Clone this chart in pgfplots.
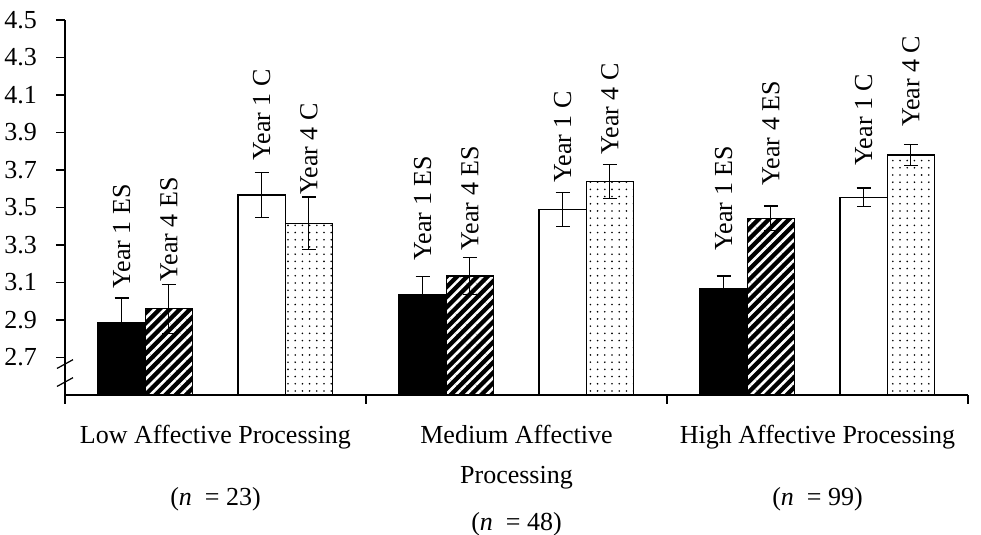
\documentclass[border=0pt]{standalone}
\usepackage{pgfplots}
\pgfplotsset{compat=1.18}
\usepackage{fontspec}
\setmainfont{Liberation Serif}
\usetikzlibrary{patterns.meta}
\newcommand{\tfont}{\fontsize{13}{15}\selectfont}
\newcommand{\bfont}{\fontsize{13}{15}\selectfont}
\begin{document}
\begin{tikzpicture}
\begin{axis}[
  scale only axis, width=451.5pt, height=187.5pt,
  xmin=-0.5, xmax=2.5, ymin=2.5, ymax=4.5,
  axis x line*=bottom, axis y line*=left,
  axis line style={line width=0.6pt, black},
  xtick={-0.5,0.5,1.5,2.5}, xticklabels={},
  ytick={2.7,2.9,3.1,3.3,3.5,3.7,3.9,4.1,4.3,4.5},
  tick align=outside, major tick length=4.5pt,
  tick style={black, line width=0.6pt},
  yticklabel style={font=\tfont, xshift=-6pt, /pgf/number format/.cd, fixed, fixed zerofill, precision=1, assume math mode=true},
  every axis plot/.append style={ybar, bar width=0.157, bar shift=0pt, draw=black, line width=0.6pt,
    error bars/y dir=both, error bars/y explicit,
    error bars/error mark=|,
    error bars/error bar style={draw=black, fill=none, line width=0.6pt, solid},
    error bars/error mark options={draw=black, fill=none, mark size=3.5pt, line width=0.6pt}},
]
% Year 1 ES
\addplot[fill=black]
  coordinates {(-0.312,2.884) +- (0,0.133) (0.688,3.033) +- (0,0.10) (1.688,3.069) +- (0,0.066)};
% Year 4 ES
\addplot[fill=black,
  postaction={pattern={Lines[angle=45,distance=3.6pt,line width=1.3pt]}, pattern color=white}]
  coordinates {(-0.155,2.96) +- (0,0.13) (0.845,3.135) +- (0,0.10) (1.845,3.442) +- (0,0.066)};
% Year 1 C
\addplot[fill=white]
  coordinates {(0.153,3.567) +- (0,0.12) (1.153,3.49) +- (0,0.09) (2.153,3.554) +- (0,0.05)};
% Year 4 C
\addplot[fill=white,
  postaction={pattern={Dots[distance=3.6pt,radius=0.45pt]}, pattern color=black}]
  coordinates {(0.31,3.416) +- (0,0.14) (1.31,3.64) +- (0,0.09) (2.31,3.78) +- (0,0.055)};
% bar labels
\begin{scope}[every node/.style={rotate=90, anchor=west, inner sep=0.5pt, font=\bfont}]
\node at (axis cs:-0.312,3.06) {Year 1 ES};
\node at (axis cs:-0.155,3.097) {Year 4 ES};
\node at (axis cs:0.153,3.743) {Year 1 C};
\node at (axis cs:0.31,3.561) {Year 4 C};
\node at (axis cs:0.688,3.211) {Year 1 ES};
\node at (axis cs:0.845,3.264) {Year 4 ES};
\node at (axis cs:1.153,3.625) {Year 1 C};
\node at (axis cs:1.31,3.775) {Year 4 C};
\node at (axis cs:1.688,3.264) {Year 1 ES};
\node at (axis cs:1.845,3.611) {Year 4 ES};
\node at (axis cs:2.153,3.718) {Year 1 C};
\node at (axis cs:2.31,3.922) {Year 4 C};
\end{scope}
\coordinate (sw) at (rel axis cs:0,0);
\coordinate (c0) at (axis cs:0,2.5);
\coordinate (c1) at (axis cs:1,2.5);
\coordinate (c2) at (axis cs:2,2.5);
\coordinate (br1) at (axis cs:-0.5,2.665);
\coordinate (br2) at (axis cs:-0.5,2.569);
\end{axis}
% axis break marks
\draw[line width=0.6pt] ([shift={(-4pt,-2.2pt)}]br1) -- ([shift={(4pt,2.2pt)}]br1);
\draw[line width=0.6pt] ([shift={(-4pt,-2.2pt)}]br2) -- ([shift={(4pt,2.2pt)}]br2);
% category labels
\begin{scope}[every node/.style={anchor=base, inner sep=0pt, font=\tfont}]
\node at ([yshift=-24.5pt]c0) {Low Affective Processing};
\node at ([yshift=-55.5pt]c0) {(\textit{n}\ \ = 23)};
\node at ([yshift=-24.5pt]c1) {Medium Affective};
\node at ([yshift=-44.5pt]c1) {Processing};
\node at ([yshift=-68pt]c1) {(\textit{n}\ \ = 48)};
\node at ([yshift=-24.5pt]c2) {High Affective Processing};
\node at ([yshift=-55.5pt]c2) {(\textit{n}\ \ = 99)};
\end{scope}
\pgfresetboundingbox
\path (sw) ++(-32.5pt,-70pt) rectangle ++(490.5pt,267.5pt);
\end{tikzpicture}
\end{document}
